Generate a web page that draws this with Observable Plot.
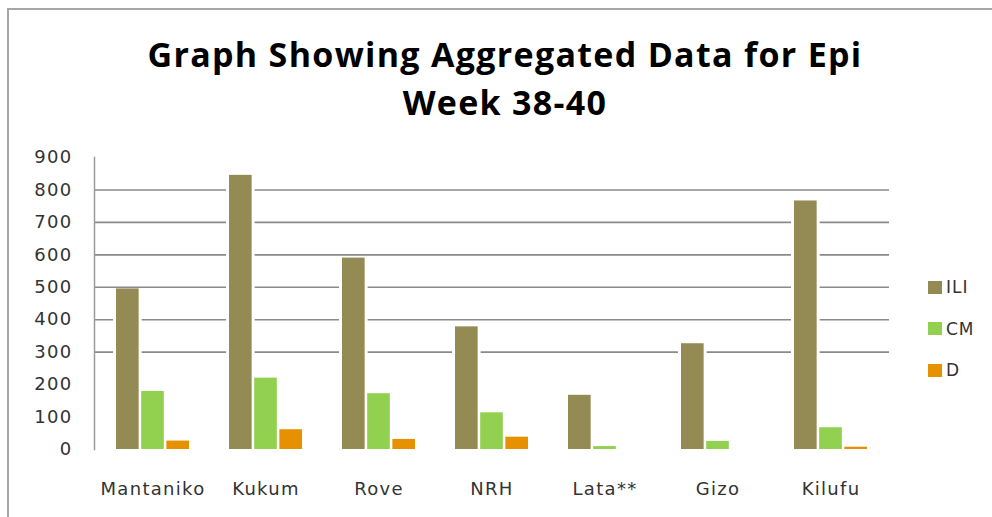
<!DOCTYPE html>
<html>
<head>
<meta charset="utf-8">
<script src="https://cdn.jsdelivr.net/npm/d3@7"></script>
<script src="https://cdn.jsdelivr.net/npm/@observablehq/plot@0.6"></script>
<style>
  html, body { margin: 0; padding: 0; background: #fff; }
  #wrap { position: relative; width: 992px; height: 517px; overflow: hidden; background: #fff; }
  #border-top { position: absolute; left: 7px; top: 8px; width: 985px; height: 2px; background: #a6a6a6; }
  #border-left { position: absolute; left: 7px; top: 8px; width: 2px; height: 509px; background: #a6a6a6; }
  #title { position: absolute; left: 0; top: 30px; width: 1010px; text-align: center;
           font-family: "Open Sans", sans-serif; font-weight: 700; font-size: 34px; letter-spacing: 1.3px;
           line-height: 48px; color: #000; }
  #chart { position: absolute; left: 0; top: 0; }
  #legend { position: absolute; left: 928px; top: 277px; display: flex; flex-direction: column; gap: 21.5px;
            font-family: "DejaVu Sans", sans-serif; font-size: 17px; letter-spacing: 1px; color: #333; }
  .item { display: flex; align-items: center; height: 20px; }
  .sw { width: 14px; height: 13px; margin-right: 4px; }
</style>
</head>
<body>
<div id="wrap">
  <div id="border-top"></div>
  <div id="border-left"></div>
  <div id="chart"></div>
  <div id="title">Graph Showing Aggregated Data for Epi<br>Week 38-40</div>
  <div id="legend"></div>
</div>
<script>
const sites = ["Mantaniko", "Kukum", "Rove", "NRH", "Lata**", "Gizo", "Kilufu"];
const series = ["ILI", "CM", "D"];
const iliValues = [495, 845, 590, 378, 167, 326, 766];
const cmValues = [179, 220, 172, 113, 9, 25, 67];
const dValues = [26, 61, 31, 38, 0, 0, 7];
const seriesColors = ["#948A54", "#92D050", "#E69200"];
const yTicks = [0, 100, 200, 300, 400, 500, 600, 700, 800, 900];
const gridTicks = [300, 400, 500, 600, 700, 800];

const valuesBySeries = { ILI: iliValues, CM: cmValues, D: dValues };
const rows = [];
series.forEach(s => sites.forEach((site, i) => rows.push({ site, series: s, value: valuesBySeries[s][i] })));

const W = 910, H = 517, mL = 94, mR = 21, mT = 157, mB = 68;
const padIn = 0.357, padOut = 0.179;
const outer = d3.scaleBand(sites, [mL, W - mR]).paddingInner(padIn).paddingOuter(padOut);
const bw = outer.bandwidth();
const inner = d3.scaleBand(series, [0, bw]).paddingInner(0.1).paddingOuter(0);
const insets = s => ({ insetLeft: inner(s), insetRight: bw - inner(s) - inner.bandwidth() });

const chart = Plot.plot({
  width: W, height: H,
  marginLeft: mL, marginRight: mR, marginTop: mT, marginBottom: mB,
  style: { fontFamily: "DejaVu Sans, sans-serif", fontSize: "18px", letterSpacing: "1.3px", color: "#333", background: "transparent", overflow: "visible" },
  x: { domain: sites, paddingInner: padIn, paddingOuter: padOut, label: null },
  y: { domain: [0, 900], label: null },
  color: { domain: series, range: seriesColors },
  marks: [
    Plot.ruleY(gridTicks, { stroke: "#8a8a8a", strokeWidth: 1.6 }),
    Plot.frame({ anchor: "left", stroke: "#9a9a9a", strokeWidth: 1.5 }),
    ...series.map(s => {
      const ins = insets(s);
      return Plot.barY(rows.filter(r => r.series === s), {
        x: "site", y: "value", fill: "white",
        insetLeft: ins.insetLeft - 3, insetRight: ins.insetRight - 3
      });
    }),
    ...series.map(s => Plot.barY(rows.filter(r => r.series === s), {
      x: "site", y: "value", fill: "series", ...insets(s)
    })),
    Plot.axisX({ tickSize: 0, tickPadding: 33, fontSize: 18, fill: "#333", label: null }),
    Plot.axisY({ ticks: yTicks, tickSize: 0, tickPadding: 22, fontSize: 18, fill: "#333", label: null, tickFormat: d => String(d) })
  ]
});
document.getElementById("chart").appendChild(chart);

const legend = d3.select("#legend");
series.forEach((s, i) => {
  const it = legend.append("div").attr("class", "item");
  it.append("div").attr("class", "sw").style("background", seriesColors[i]);
  it.append("span").text(s);
});
</script>
</body>
</html>
